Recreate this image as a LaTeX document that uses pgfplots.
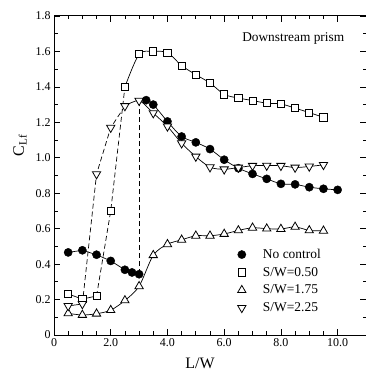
\documentclass[border=0pt]{standalone}
\usepackage{pgfplots}
\pgfplotsset{compat=1.18}
\usepackage{fontspec}
\setmainfont{Liberation Serif}
\begin{document}
\begin{tikzpicture}
\begin{axis}[
 scale only axis, width=312bp, height=319bp,
 at={(0,0)}, anchor=south west,
 xmin=0, xmax=11, ymin=0, ymax=1.8,
 xtick={0,2,4,6,8,10}, xticklabels={0,2.0,4.0,6.0,8.0,10.0},
 minor x tick num=3,
 ytick={0,0.2,0.4,0.6,0.8,1.0,1.2,1.4,1.6,1.8},
 yticklabels={0,0.2,0.4,0.6,0.8,1.0,1.2,1.4,1.6,1.8},
 minor y tick num=1,
 tick align=inside,
 major tick length=6bp, minor tick length=3.5bp,
 axis line style={line width=1bp},
 every tick/.style={line width=0.7bp, black},
 /pgf/number format/assume math mode=true,
 tick label style={font=\fontsize{12}{14}\selectfont},
 xlabel={L/W}, ylabel={C\textsubscript{Lf}},
 xlabel style={font=\fontsize{16}{18}\selectfont, at={(axis description cs:0.468,-0.088)}, anchor=center},
 ylabel style={font=\fontsize{16}{18}\selectfont, at={(axis description cs:-0.109,0.595)}, anchor=center},
 legend style={draw=none, fill=none, inner sep=0pt, at={(axis description cs:0.588,0.276)}, anchor=north west,
   font=\fontsize{13.5}{15}\selectfont, cells={anchor=west}, row sep=3.3bp,
   /tikz/every odd column/.append style={column sep=15bp}},
 clip=false,
]
% ---- lines ----
\addplot[black, line width=0.7bp, forget plot] coordinates {(0.5,0.466)(1.0,0.478)(1.5,0.453)(2.0,0.418)(2.5,0.368)(2.75,0.353)(3.0,0.343)};
\addplot[black, line width=0.7bp, dash pattern=on 5bp off 3bp, forget plot] coordinates {(3.0,0.343)(3.0,1.32)};
\addplot[black, line width=0.7bp, smooth, forget plot] coordinates {(3.0,1.32)(3.25,1.325)(3.5,1.30)(4.0,1.205)(4.5,1.12)(5.0,1.087)(5.5,1.049)(6.0,0.989)(6.5,0.941)(7.0,0.909)(7.5,0.881)(8.0,0.853)(8.5,0.850)(9.0,0.834)(9.5,0.825)(10.0,0.819)};
\addplot[black, line width=0.7bp, forget plot] coordinates {(0.5,0.231)(1.0,0.203)(1.5,0.22)};
\addplot[black, line width=0.7bp, dash pattern=on 5bp off 3bp, forget plot] coordinates {(1.5,0.22)(2.0,0.70)(2.5,1.40)};
\addplot[black, line width=0.7bp, smooth, forget plot] coordinates {(2.5,1.40)(3.0,1.584)(3.5,1.60)(4.0,1.593)(4.5,1.52)(5.0,1.469)(5.5,1.422)(6.0,1.358)(6.5,1.337)(7.0,1.323)(7.5,1.308)(8.0,1.304)(8.5,1.28)(9.0,1.255)(9.5,1.228)};
\addplot[black, line width=0.7bp, smooth, forget plot] coordinates {(0.5,0.122)(1.0,0.113)(1.5,0.12)(2.0,0.14)(2.5,0.195)(3.0,0.275)(3.5,0.45)(4.0,0.512)(4.5,0.537)(5.0,0.56)(5.5,0.56)(6.0,0.57)(6.5,0.59)(7.0,0.605)(7.5,0.60)(8.0,0.598)(8.5,0.61)(9.0,0.59)(9.5,0.588)};
\addplot[black, line width=0.7bp, forget plot] coordinates {(0.5,0.164)(1.0,0.175)};
\addplot[black, line width=0.7bp, dash pattern=on 5bp off 3bp, forget plot] coordinates {(1.0,0.175)(1.5,0.908)(2.0,1.17)(2.5,1.292)};
\addplot[black, line width=0.7bp, smooth, forget plot] coordinates {(2.5,1.292)(3.0,1.322)(3.5,1.252)(4.0,1.177)(4.5,1.082)(5.0,1.007)(5.5,0.947)(6.0,0.935)(6.5,0.945)(7.0,0.955)(7.5,0.956)(8.0,0.955)(8.5,0.945)(9.0,0.951)(9.5,0.96)};
% ---- marks ----
\addplot[only marks, mark=*, mark size=4.1bp, black] coordinates {(0.5,0.466)(1.0,0.478)(1.5,0.453)(2.0,0.418)(2.5,0.368)(2.75,0.353)(3.0,0.343)(3.25,1.325)(3.5,1.30)(4.0,1.205)(4.5,1.12)(5.0,1.087)(5.5,1.049)(6.0,0.989)(6.5,0.941)(7.0,0.909)(7.5,0.881)(8.0,0.853)(8.5,0.850)(9.0,0.834)(9.5,0.825)(10.0,0.819)};
\addlegendentry{No control}
\addplot[only marks, mark=square*, mark size=3.6bp, black, mark options={fill=white, line width=0.8bp}] coordinates {(0.5,0.231)(1.0,0.203)(1.5,0.22)(2.0,0.70)(2.5,1.40)(3.0,1.584)(3.5,1.60)(4.0,1.593)(4.5,1.52)(5.0,1.469)(5.5,1.422)(6.0,1.358)(6.5,1.337)(7.0,1.323)(7.5,1.308)(8.0,1.304)(8.5,1.28)(9.0,1.255)(9.5,1.228)};
\addlegendentry{S/W=0.50}
\addplot[only marks, mark=triangle*, mark size=4.8bp, black, mark options={fill=white, line width=0.8bp}] coordinates {(0.5,0.122)(1.0,0.113)(1.5,0.12)(2.0,0.14)(2.5,0.195)(3.0,0.275)(3.5,0.45)(4.0,0.512)(4.5,0.537)(5.0,0.56)(5.5,0.56)(6.0,0.57)(6.5,0.59)(7.0,0.605)(7.5,0.60)(8.0,0.598)(8.5,0.61)(9.0,0.59)(9.5,0.588)};
\addlegendentry{S/W=1.75}
\addplot[only marks, mark=triangle*, mark size=4.8bp, black, mark options={fill=white, line width=0.8bp, rotate=180}] coordinates {(0.5,0.164)(1.0,0.175)(1.5,0.908)(2.0,1.17)(2.5,1.292)(3.0,1.322)(3.5,1.252)(4.0,1.177)(4.5,1.082)(5.0,1.007)(5.5,0.947)(6.0,0.935)(6.5,0.945)(7.0,0.955)(7.5,0.956)(8.0,0.955)(8.5,0.945)(9.0,0.951)(9.5,0.96)};
\addlegendentry{S/W=2.25}
\node[anchor=west, inner sep=0pt, font=\fontsize{13.4}{15}\selectfont] at (axis cs:6.63,1.672) {Downstream prism};
\end{axis}
\pgfresetboundingbox
\path[use as bounding box] (-54bp,-37bp) rectangle (312bp,335bp);
\end{tikzpicture}
\end{document}
